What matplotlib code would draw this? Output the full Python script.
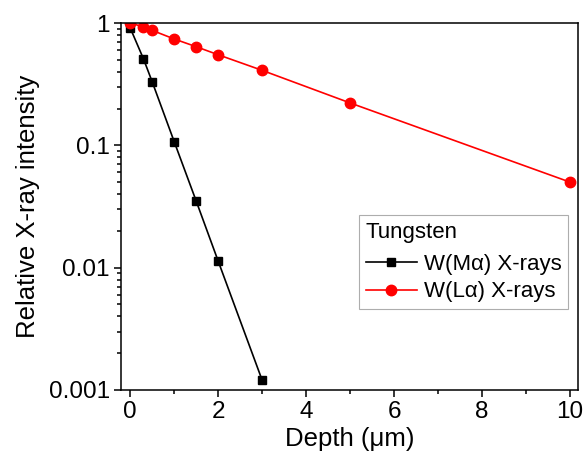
import matplotlib
matplotlib.use("Agg")
import matplotlib.pyplot as plt
from matplotlib.ticker import LogLocator, FixedLocator, NullFormatter

plt.rcParams['font.family'] = ['Liberation Sans', 'DejaVu Sans']

depth_m = [0, 0.3, 0.5, 1, 1.5, 2, 3]
int_m = [0.91, 0.51, 0.33, 0.107, 0.035, 0.0113, 0.0012]
depth_l = [0, 0.3, 0.5, 1, 1.5, 2, 3, 5, 10]
int_l = [1.0, 0.93, 0.87, 0.74, 0.64, 0.55, 0.41, 0.222, 0.05]

W, H = 584, 466
fig = plt.figure(figsize=(W/100, H/100), dpi=100)
ax = fig.add_axes([121/W, 1 - 390/H, (578-121)/W, (390-23)/H])

ax.plot(depth_m, int_m, color='black', marker='s', markersize=6.3, lw=1.2, label='W(Mα) X-rays')
ax.plot(depth_l, int_l, color='red', marker='o', markersize=7.5, lw=1.2, label='W(Lα) X-rays')

ax.set_yscale('log')
ax.set_ylim(0.001, 1)
ax.set_xlim(-0.21, 10.18)
ax.set_yticks([0.001, 0.01, 0.1, 1])
ax.set_yticklabels(['0.001', '0.01', '0.1', '1'])
ax.yaxis.set_minor_locator(LogLocator(base=10, subs=range(2, 10)))
ax.yaxis.set_minor_formatter(NullFormatter())
ax.set_xticks([0, 2, 4, 6, 8, 10])
ax.xaxis.set_minor_locator(FixedLocator([1, 3, 5, 7, 9]))
ax.tick_params(which='major', direction='out', length=5, width=1.1, labelsize=17.5, pad=3)
ax.tick_params(which='minor', direction='out', length=3, width=1.1)
for s in ax.spines.values():
    s.set_linewidth(1.1)
ax.set_xlabel('Depth (μm)', fontsize=18.5, labelpad=3)
ax.set_ylabel('Relative X-ray intensity', fontsize=18.5, labelpad=6)

leg = ax.legend(title='Tungsten', loc='upper right',
                bbox_to_anchor=(568/W, 1 - 215/H), bbox_transform=fig.transFigure,
                borderaxespad=0, fontsize=16, title_fontsize=16, frameon=True, fancybox=False,
                edgecolor='#999999', borderpad=0.3, handlelength=2.3, handletextpad=0.3,
                labelspacing=0.3)
leg._legend_box.align = 'left'
leg._legend_box.sep = 8
leg.get_frame().set_linewidth(0.8)

fig.savefig('out.png', dpi=100)
